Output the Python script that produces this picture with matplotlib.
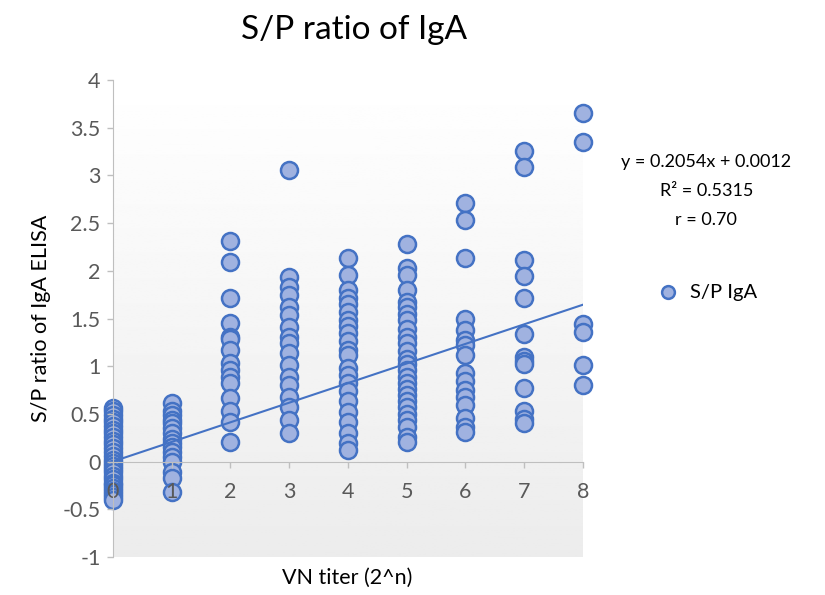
import matplotlib.pyplot as plt
import numpy as np

# VN titer groups (x) and S/P ratios of IgA
titer_0 = [0.56, 0.53, 0.49, 0.45, 0.41, 0.37, 0.33, 0.30, 0.26, 0.22, 0.18, 0.14, 0.10, 0.06,
           0.02, -0.02, -0.05, -0.08, -0.11, -0.15, -0.18, -0.22, -0.25, -0.28, -0.31, -0.34,
           -0.37, -0.40]
titer_1 = [0.61, 0.53, 0.49, 0.44, 0.40, 0.35, 0.30, 0.24, 0.20, 0.15, 0.10, 0.05, 0.00,
           -0.11, -0.17, -0.32]
titer_2 = [2.31, 2.09, 1.71, 1.45, 1.31, 1.28, 1.17, 1.03, 0.96, 0.89, 0.82, 0.67, 0.53, 0.41, 0.21]
titer_3 = [3.06, 1.93, 1.83, 1.75, 1.62, 1.54, 1.41, 1.31, 1.24, 1.14, 1.01, 0.89, 0.80, 0.68,
           0.57, 0.44, 0.30]
titer_4 = [2.13, 1.96, 1.80, 1.71, 1.65, 1.57, 1.48, 1.42, 1.35, 1.26, 1.17, 1.12, 0.98, 0.91,
           0.82, 0.74, 0.63, 0.52, 0.42, 0.30, 0.19, 0.12]
titer_5 = [2.28, 2.03, 1.96, 1.80, 1.67, 1.62, 1.55, 1.48, 1.39, 1.31, 1.24, 1.16, 1.08, 1.02,
           0.96, 0.89, 0.82, 0.76, 0.70, 0.63, 0.57, 0.50, 0.44, 0.36, 0.26, 0.21]
titer_6 = [2.71, 2.53, 2.13, 1.50, 1.38, 1.27, 1.22, 1.12, 0.93, 0.84, 0.75, 0.68, 0.59, 0.46,
           0.36, 0.31]
titer_7 = [3.26, 3.09, 2.11, 1.95, 1.71, 1.34, 1.10, 1.05, 1.02, 0.77, 0.53, 0.45, 0.40]
titer_8 = [3.65, 3.35, 1.44, 1.36, 1.01, 0.80]

groups = [titer_0, titer_1, titer_2, titer_3, titer_4, titer_5, titer_6, titer_7, titer_8]
slope, intercept = 0.2054, 0.0012

x = np.concatenate([[i] * len(g) for i, g in enumerate(groups)])
y = np.concatenate(groups)

plt.rcParams['font.family'] = ['Lato', 'DejaVu Sans']

fig = plt.figure(figsize=(8.25, 5.95), dpi=100)
ax = fig.add_axes([0.137, 0.0639, 0.5695, 0.8016])

# plot area gradient, white on top to light grey at bottom
grad = np.linspace(1.0, 0.925, 256).reshape(-1, 1)
ax.imshow(grad, cmap='gray', vmin=0, vmax=1, extent=[0, 1, 0, 1], transform=ax.transAxes,
          aspect='auto', zorder=0)

ax.scatter(x, y, s=150, facecolor='#A0B2E0', edgecolor='#4472C4', linewidth=1.8,
           zorder=1, clip_on=False, label='S/P IgA')
xs = np.array([0, 8])
ax.plot(xs, slope * xs + intercept, color='#4472C4', linewidth=1.5, zorder=2)

ax.set_xlim(0, 8)
ax.set_ylim(-1, 4)
ax.set_xticks(range(9))
ax.set_yticks(np.arange(-1, 4.01, 0.5))
ax.set_yticklabels(['-1', '-0.5', '0', '0.5', '1', '1.5', '2', '2.5', '3', '3.5', '4'])

for s in ['top', 'right']:
    ax.spines[s].set_visible(False)
ax.spines['bottom'].set_position(('data', 0))
ax.spines['bottom'].set_color('#BFBFBF')
ax.spines['left'].set_color('#BFBFBF')
ax.tick_params(axis='both', colors='#BFBFBF', labelcolor='#595959', labelsize=15.5,
               length=4, width=1)
ax.tick_params(axis='x', pad=11)
ax.tick_params(axis='y', pad=5)

ax.set_ylabel('S/P ratio of IgA ELISA', fontsize=15.5, color='black', labelpad=8)
fig.text(0.421, 0.028, 'VN titer (2^n)', fontsize=15.5, ha='center', va='center')
fig.text(0.429, 0.949, 'S/P ratio of IgA', fontsize=24, ha='center', va='center')

fig.text(0.856, 0.727, 'y = 0.2054x + 0.0012', fontsize=13, ha='center', va='center')
fig.text(0.856, 0.679, 'R² = 0.5315', fontsize=13, ha='center', va='center')
fig.text(0.856, 0.630, 'r = 0.70', fontsize=13, ha='center', va='center')

fig.legend(loc='center left', bbox_to_anchor=(0.763, 0.509), frameon=False, fontsize=14.5,
           handletextpad=0.1, markerscale=0.75)

fig.savefig('out.png', dpi=100)
